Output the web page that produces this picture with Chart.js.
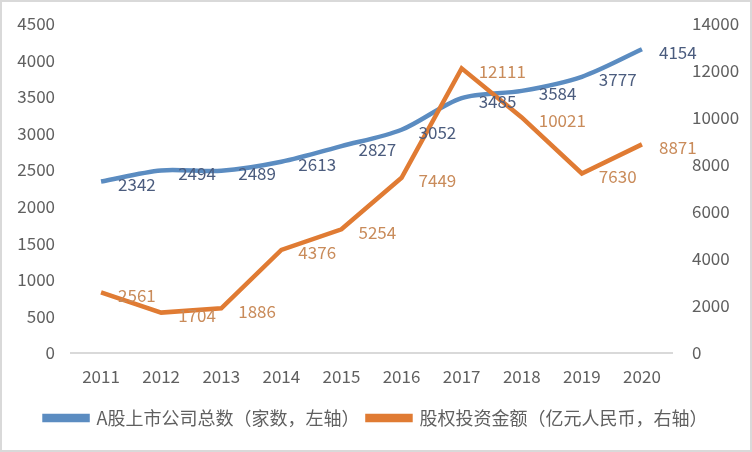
<!DOCTYPE html>
<html>
<head>
<meta charset="utf-8">
<script src="https://cdn.jsdelivr.net/npm/chart.js@4"></script>
<style>
  body { margin: 0; background: #fff; }
  #wrap { width: 752px; height: 452px; position: relative; }
</style>
</head>
<body>
<div id="wrap"><canvas id="myChart"></canvas></div>
<script>
const years = ['2011', '2012', '2013', '2014', '2015', '2016', '2017', '2018', '2019', '2020'];
const listedCompanies = [2342, 2494, 2489, 2613, 2827, 3052, 3485, 3584, 3777, 4154];
const equityInvestment = [2561, 1704, 1886, 4376, 5254, 7449, 12111, 10021, 7630, 8871];
const leftTicks = [0, 500, 1000, 1500, 2000, 2500, 3000, 3500, 4000, 4500];
const rightTicks = [0, 2000, 4000, 6000, 8000, 10000, 12000, 14000];

const fontFamily = '"Noto Sans CJK SC", "Noto Sans", sans-serif';
const labelColors = ['#4b5c7e', '#c98b5a'];
const tickColor = '#606060';

// border round the whole picture
const frame = {
    id: 'frame',
    beforeDraw(chart) {
        const c = chart.ctx;
        c.save();
        c.fillStyle = '#fff';
        c.fillRect(0, 0, chart.width, chart.height);
        c.strokeStyle = '#d9d9d9';
        c.lineWidth = 2;
        c.strokeRect(1, 1, chart.width - 2, chart.height - 2);
        c.restore();
    }
};

// value labels to the right of each point
const valueLabels = {
    id: 'valueLabels',
    afterDatasetsDraw(chart) {
        const c = chart.ctx;
        c.save();
        c.font = '17px ' + fontFamily;
        c.textAlign = 'left';
        c.textBaseline = 'middle';
        chart.data.datasets.forEach((ds, i) => {
            const meta = chart.getDatasetMeta(i);
            c.fillStyle = labelColors[i];
            meta.data.forEach((pt, j) => {
                c.fillText(String(ds.data[j]), pt.x + 17, pt.y + 3);
            });
        });
        c.restore();
    }
};

// fixed axis width, and no extra top/bottom room for the tick labels
const fixAxis = (w) => (axis) => {
    axis.width = w;
    axis.paddingTop = 0;
    axis.paddingBottom = 0;
};

const ctx1 = document.getElementById('myChart');

new Chart(ctx1, {
    type: 'line',
    data: {
        labels: years,
        datasets: [{
            label: 'A股上市公司总数（家数，左轴）',
            data: listedCompanies,
            borderColor: '#5b8cc1',
            backgroundColor: '#5b8cc1',
            borderWidth: 4.5,
            pointRadius: 0,
            tension: 0.3,
            yAxisID: 'y',
            order: 1
        }, {
            label: '股权投资金额（亿元人民币，右轴）',
            data: equityInvestment,
            borderColor: '#e07b33',
            backgroundColor: '#e07b33',
            borderWidth: 4.5,
            pointRadius: 0,
            tension: 0,
            yAxisID: 'y1',
            order: 0
        }]
    },
    options: {
        responsive: true,
        maintainAspectRatio: false,
        animation: false,
        layout: { autoPadding: false, padding: { top: 24, left: 0, right: 0, bottom: 15 } },
        plugins: {
            tooltip: { enabled: false },
            legend: {
                position: 'bottom',
                labels: {
                    boxWidth: 43,
                    boxHeight: 4,
                    padding: 8,
                    color: tickColor,
                    font: { size: 18, family: fontFamily },
                    sort: (a, b) => a.datasetIndex - b.datasetIndex
                }
            }
        },
        scales: {
            x: {
                offset: true,
                grid: { display: false, drawTicks: false, tickLength: 0 },
                border: { display: true, color: '#d9d9d9', width: 2 },
                ticks: { color: tickColor, padding: 14, font: { size: 17, family: fontFamily } }
            },
            y: {
                position: 'left',
                min: 0,
                max: 4500,
                afterBuildTicks: (axis) => { axis.ticks = leftTicks.map(v => ({ value: v })); },
                afterFit: fixAxis(71),
                grid: { display: false, drawTicks: false, tickLength: 0 },
                border: { display: false },
                ticks: {
                    color: tickColor, padding: 16, font: { size: 17, family: fontFamily },
                    callback: (v) => String(v)
                }
            },
            y1: {
                position: 'right',
                min: 0,
                max: 14000,
                afterBuildTicks: (axis) => { axis.ticks = rightTicks.map(v => ({ value: v })); },
                afterFit: fixAxis(80),
                grid: { display: false, drawTicks: false, tickLength: 0 },
                border: { display: false },
                ticks: {
                    color: tickColor, padding: 20, font: { size: 17, family: fontFamily },
                    callback: (v) => String(v)
                }
            }
        }
    },
    plugins: [frame, valueLabels]
});
</script>
</body>
</html>
